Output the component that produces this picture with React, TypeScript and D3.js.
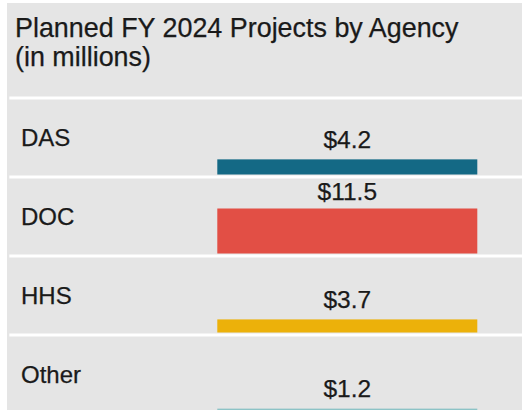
import React from "react";
import * as d3 from "d3";

const categories = ["DAS", "DOC", "HHS", "Other"];
const values = [4.2, 11.5, 3.7, 1.2];
const valueLabels = ["$4.2", "$11.5", "$3.7", "$1.2"];
const colors = ["#146985", "#e24f45", "#ecb10a", "#8cc3c6"];
const titleLines = ["Planned FY 2024 Projects by Agency", "(in millions)"];

const W = 522;
const H = 410;
const FONT = "'Liberation Sans', Arial, sans-serif";

export default function App() {
  const rowStep = 79;
  const y = d3
    .scaleBand<string>()
    .domain(categories)
    .range([96.5, 96.5 + rowStep * categories.length])
    .paddingInner(0)
    .paddingOuter(0);
  const x = d3.scaleLinear().domain([0, 1]).range([217.3, 477.3]);
  const h = d3.scaleLinear().domain([0.5, 11.5]).range([0, 45]);

  return (
    <svg
      width={W}
      height={H}
      style={{ position: "absolute", left: 0, top: 0, display: "block" }}
      fontFamily={FONT}
    >
      <rect x={0} y={0} width={W} height={H} fill="#ffffff" />
      <rect x={7} y={3} width={W - 7} height={H - 3} fill="#e5e5e5" />
      {titleLines.map((t, i) => (
        <text
          key={t}
          x={15}
          y={37.3 + i * 29}
          fontSize={26.9}
          fill="#1a1a1a"
          stroke="#1a1a1a"
          strokeWidth={0.25}
        >
          {t}
        </text>
      ))}
      {categories.map((c, i) => {
        const top = y(c)!;
        const contentTop = top + 3;
        const bottom = top + y.step();
        const barH = h(values[i]);
        const barBottom = bottom - 1;
        const barTop = barBottom - barH;
        const labelBaseline = Math.max(barTop - 11.5, contentTop + 21);
        const mid = (contentTop + bottom) / 2;
        return (
          <g key={c}>
            <rect x={9.3} y={top} width={W - 9.3} height={3} fill="#ffffff" />
            <text
              x={21}
              y={mid}
              dy="0.36em"
              fontSize={24}
              fill="#1a1a1a"
              stroke="#1a1a1a"
              strokeWidth={0.25}
            >
              {c}
            </text>
            <rect
              x={x(0)}
              y={barTop}
              width={x(1) - x(0)}
              height={barH}
              fill={colors[i]}
            />
            <text
              x={(x(0) + x(1)) / 2}
              y={labelBaseline}
              textAnchor="middle"
              fontSize={24.5}
              fill="#1a1a1a"
              stroke="#1a1a1a"
              strokeWidth={0.25}
            >
              {valueLabels[i]}
            </text>
          </g>
        );
      })}
    </svg>
  );
}
